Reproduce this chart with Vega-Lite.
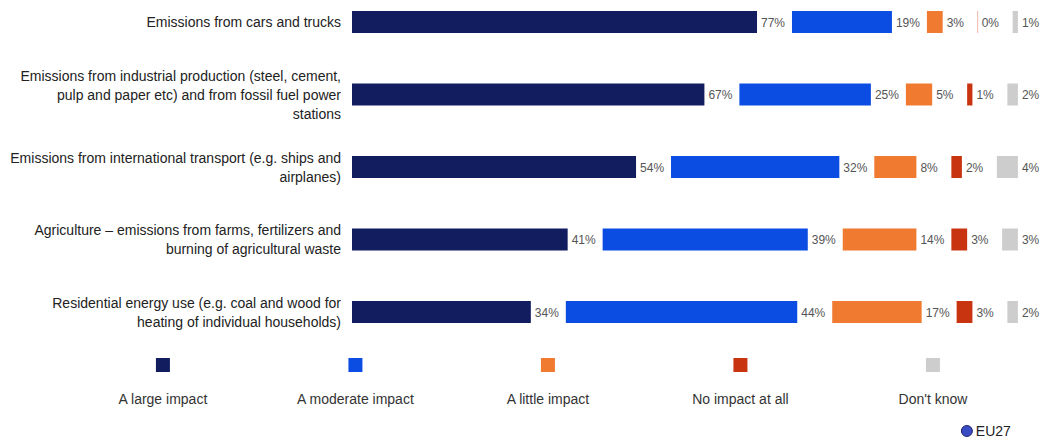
{
  "$schema": "https://vega.github.io/schema/vega-lite/v6.json",
  "width": 1042,
  "height": 441,
  "autosize": "none",
  "padding": 0,
  "background": "white",
  "config": {"view": {"stroke": null}, "font": "Liberation Sans"},
  "datasets": {
    "survey": [
      {"item": "Emissions from cars and trucks", "response": "A large impact", "pct": 77},
      {"item": "Emissions from cars and trucks", "response": "A moderate impact", "pct": 19},
      {"item": "Emissions from cars and trucks", "response": "A little impact", "pct": 3},
      {"item": "Emissions from cars and trucks", "response": "No impact at all", "pct": 0},
      {"item": "Emissions from cars and trucks", "response": "Don't know", "pct": 1},
      {"item": "Emissions from industrial production (steel, cement,\npulp and paper etc) and from fossil fuel power\nstations", "response": "A large impact", "pct": 67},
      {"item": "Emissions from industrial production (steel, cement,\npulp and paper etc) and from fossil fuel power\nstations", "response": "A moderate impact", "pct": 25},
      {"item": "Emissions from industrial production (steel, cement,\npulp and paper etc) and from fossil fuel power\nstations", "response": "A little impact", "pct": 5},
      {"item": "Emissions from industrial production (steel, cement,\npulp and paper etc) and from fossil fuel power\nstations", "response": "No impact at all", "pct": 1},
      {"item": "Emissions from industrial production (steel, cement,\npulp and paper etc) and from fossil fuel power\nstations", "response": "Don't know", "pct": 2},
      {"item": "Emissions from international transport (e.g. ships and\nairplanes)", "response": "A large impact", "pct": 54},
      {"item": "Emissions from international transport (e.g. ships and\nairplanes)", "response": "A moderate impact", "pct": 32},
      {"item": "Emissions from international transport (e.g. ships and\nairplanes)", "response": "A little impact", "pct": 8},
      {"item": "Emissions from international transport (e.g. ships and\nairplanes)", "response": "No impact at all", "pct": 2},
      {"item": "Emissions from international transport (e.g. ships and\nairplanes)", "response": "Don't know", "pct": 4},
      {"item": "Agriculture – emissions from farms, fertilizers and\nburning of agricultural waste", "response": "A large impact", "pct": 41},
      {"item": "Agriculture – emissions from farms, fertilizers and\nburning of agricultural waste", "response": "A moderate impact", "pct": 39},
      {"item": "Agriculture – emissions from farms, fertilizers and\nburning of agricultural waste", "response": "A little impact", "pct": 14},
      {"item": "Agriculture – emissions from farms, fertilizers and\nburning of agricultural waste", "response": "No impact at all", "pct": 3},
      {"item": "Agriculture – emissions from farms, fertilizers and\nburning of agricultural waste", "response": "Don't know", "pct": 3},
      {"item": "Residential energy use (e.g. coal and wood for\nheating of individual households)", "response": "A large impact", "pct": 34},
      {"item": "Residential energy use (e.g. coal and wood for\nheating of individual households)", "response": "A moderate impact", "pct": 44},
      {"item": "Residential energy use (e.g. coal and wood for\nheating of individual households)", "response": "A little impact", "pct": 17},
      {"item": "Residential energy use (e.g. coal and wood for\nheating of individual households)", "response": "No impact at all", "pct": 3},
      {"item": "Residential energy use (e.g. coal and wood for\nheating of individual households)", "response": "Don't know", "pct": 2}
    ],
    "responses": [
      {"response": "A large impact"},
      {"response": "A moderate impact"},
      {"response": "A little impact"},
      {"response": "No impact at all"},
      {"response": "Don't know"}
    ],
    "series": [{"series": "EU27"}]
  },
  "layer": [
    {
      "layer": [
        {
          "data": {"name": "survey"},
          "transform": [
            {"calculate": "indexof(['A large impact','A moderate impact','A little impact','No impact at all',\"Don't know\"], datum.response)", "as": "idx"},
            {"window": [{"op": "sum", "field": "pct", "as": "cum"}], "groupby": ["item"], "sort": [{"field": "idx", "order": "ascending"}], "frame": [null, 0]},
            {"calculate": "datum.cum - datum.pct + datum.idx * 6.65", "as": "x0"},
            {"calculate": "datum.cum + datum.idx * 6.65", "as": "x1"}
          ],
          "mark": {"type": "bar", "strokeWidth": 0},
          "encoding": {
            "x": {"field": "x0", "type": "quantitative", "scale": {"domain": [-66.92, 131.18], "nice": false, "zero": false}, "axis": null},
            "x2": {"field": "x1"},
            "y": {
              "field": "item", "type": "nominal",
              "scale": {
                "domain": [
                  "Emissions from cars and trucks",
                  "Emissions from industrial production (steel, cement,\npulp and paper etc) and from fossil fuel power\nstations",
                  "Emissions from international transport (e.g. ships and\nairplanes)",
                  "Agriculture – emissions from farms, fertilizers and\nburning of agricultural waste",
                  "Residential energy use (e.g. coal and wood for\nheating of individual households)",
                  "legend"
                ],
                "paddingInner": 0.6966, "paddingOuter": 0.3897, "align": 0.1947
              },
              "axis": null
            },
            "color": {
              "field": "response", "type": "nominal",
              "scale": {
                "domain": ["A large impact", "A moderate impact", "A little impact", "No impact at all", "Don't know"],
                "range": ["#111d5e", "#0b4de2", "#f07a30", "#c8340f", "#cdcdcd"]
              },
              "legend": null
            }
          }
        },
        {
          "data": {"name": "survey"},
          "transform": [
            {"calculate": "indexof(['A large impact','A moderate impact','A little impact','No impact at all',\"Don't know\"], datum.response)", "as": "idx"},
            {"window": [{"op": "sum", "field": "pct", "as": "cum"}], "groupby": ["item"], "sort": [{"field": "idx", "order": "ascending"}], "frame": [null, 0]},
            {"calculate": "datum.cum + datum.idx * 6.65", "as": "x1"},
            {"filter": "datum.pct == 0"}
          ],
          "mark": {"type": "rule", "color": "#f0b8a8", "strokeWidth": 1},
          "encoding": {
            "x": {"field": "x1", "type": "quantitative"},
            "y": {"field": "item", "type": "nominal", "bandPosition": 0},
            "y2": {"field": "item", "bandPosition": 1}
          }
        },
        {
          "data": {"name": "survey"},
          "transform": [
            {"calculate": "indexof(['A large impact','A moderate impact','A little impact','No impact at all',\"Don't know\"], datum.response)", "as": "idx"},
            {"window": [{"op": "sum", "field": "pct", "as": "cum"}], "groupby": ["item"], "sort": [{"field": "idx", "order": "ascending"}], "frame": [null, 0]},
            {"calculate": "datum.cum + datum.idx * 6.65", "as": "x1"},
            {"calculate": "datum.pct + '%'", "as": "lbl"}
          ],
          "mark": {"type": "text", "align": "left", "baseline": "middle", "dx": 4, "dy": 1, "fontSize": 12, "color": "#555555"},
          "encoding": {
            "x": {"field": "x1", "type": "quantitative"},
            "y": {"field": "item", "type": "nominal"},
            "text": {"field": "lbl"}
          }
        },
        {
          "data": {"name": "survey"},
          "transform": [
            {"filter": "datum.response == 'A large impact'"},
            {"filter": "length(split(datum.item, '\\n')) == 1"}
          ],
          "mark": {"type": "text", "align": "right", "baseline": "middle", "dx": -11, "dy": 1.5, "fontSize": 14, "lineHeight": 19, "lineBreak": "\n", "color": "#222222"},
          "encoding": {
            "x": {"datum": 0, "type": "quantitative"},
            "y": {"field": "item", "type": "nominal"},
            "text": {"field": "item"}
          }
        },
        {
          "data": {"name": "survey"},
          "transform": [
            {"filter": "datum.response == 'A large impact'"},
            {"filter": "length(split(datum.item, '\\n')) == 2"}
          ],
          "mark": {"type": "text", "align": "right", "baseline": "middle", "dx": -11, "dy": -8, "fontSize": 14, "lineHeight": 19, "lineBreak": "\n", "color": "#222222"},
          "encoding": {
            "x": {"datum": 0, "type": "quantitative"},
            "y": {"field": "item", "type": "nominal"},
            "text": {"field": "item"}
          }
        },
        {
          "data": {"name": "survey"},
          "transform": [
            {"filter": "datum.response == 'A large impact'"},
            {"filter": "length(split(datum.item, '\\n')) == 3"}
          ],
          "mark": {"type": "text", "align": "right", "baseline": "middle", "dx": -11, "dy": -17.5, "fontSize": 14, "lineHeight": 19, "lineBreak": "\n", "color": "#222222"},
          "encoding": {
            "x": {"datum": 0, "type": "quantitative"},
            "y": {"field": "item", "type": "nominal"},
            "text": {"field": "item"}
          }
        },
        {
          "data": {"name": "series"},
          "mark": {"type": "point", "shape": "circle", "filled": true, "size": 120, "color": "#3a4cc4", "stroke": "#1a2270", "strokeWidth": 1, "yOffset": 46.5, "opacity": 1},
          "encoding": {
            "x": {"datum": 116.9, "type": "quantitative"},
            "y": {"datum": "legend", "type": "nominal"}
          }
        },
        {
          "data": {"name": "series"},
          "mark": {"type": "text", "align": "left", "baseline": "middle", "dy": 47.5, "fontSize": 14, "color": "#222222"},
          "encoding": {
            "x": {"datum": 118.6, "type": "quantitative"},
            "y": {"datum": "legend", "type": "nominal"},
            "text": {"field": "series"}
          }
        }
      ]
    },
    {
      "layer": [
        {
          "data": {"name": "responses"},
          "mark": {"type": "square", "size": 196, "yOffset": -19.5, "opacity": 1},
          "encoding": {
            "x": {
              "field": "response", "type": "nominal",
              "scale": {"type": "point", "domain": ["A large impact", "A moderate impact", "A little impact", "No impact at all", "Don't know"], "padding": 0.7065, "align": 0.599},
              "axis": null
            },
            "y": {"datum": "legend", "type": "nominal"},
            "color": {"field": "response", "type": "nominal"}
          }
        },
        {
          "data": {"name": "responses"},
          "mark": {"type": "text", "align": "center", "baseline": "middle", "dy": 16, "fontSize": 14, "color": "#333333"},
          "encoding": {
            "x": {"field": "response", "type": "nominal"},
            "y": {"datum": "legend", "type": "nominal"},
            "text": {"field": "response"}
          }
        }
      ]
    }
  ],
  "resolve": {"scale": {"x": "independent"}}
}
